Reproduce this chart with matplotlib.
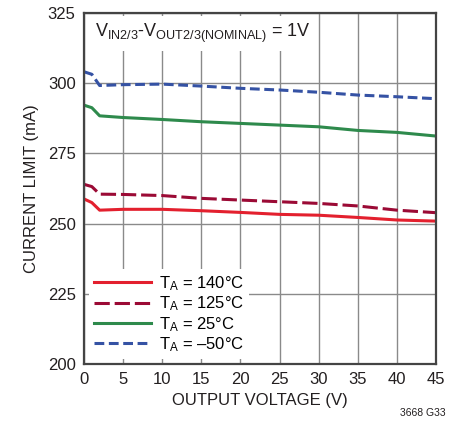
import numpy as np
import matplotlib.pyplot as plt

plt.rcParams['font.family'] = ['Liberation Sans Narrow', 'Liberation Sans', 'DejaVu Sans']
plt.rcParams['mathtext.fontset'] = 'custom'
plt.rcParams['mathtext.rm'] = 'Liberation Sans'
plt.rcParams['mathtext.it'] = 'Liberation Sans'

# Output voltage (V)
vout = [0, 1, 2, 5, 10, 15, 20, 25, 30, 35, 40, 45]

# Current limit (mA) per temperature
i_140 = [258.8, 257.5, 254.8, 255.1, 255.1, 254.6, 254.0, 253.3, 253.0, 252.2, 251.3, 250.9]
i_125 = [264.0, 263.2, 260.5, 260.4, 260.0, 259.0, 258.4, 257.8, 257.2, 256.3, 254.8, 253.9]
i_25 = [292.2, 291.3, 288.4, 287.8, 287.1, 286.3, 285.7, 285.1, 284.5, 283.2, 282.5, 281.2]
i_m50 = [304.1, 303.2, 299.2, 299.5, 299.7, 299.0, 298.2, 297.6, 296.8, 295.8, 295.2, 294.5]

labels = [r'$\mathregular{T_A}$ = 140°C', r'$\mathregular{T_A}$ = 125°C',
          r'$\mathregular{T_A}$ = 25°C', r'$\mathregular{T_A}$ = –50°C']

fig = plt.figure(figsize=(4.59, 4.29), dpi=100)
ax = fig.add_axes([0.183, 0.1515, 0.767, 0.818])

ax.plot(vout, i_140, color='#e3202e', lw=2.2, label=labels[0])
ax.plot(vout, i_125, color='#9b0a35', lw=2.2, dashes=(5, 1.6), label=labels[1])
ax.plot(vout, i_25, color='#2e8a4c', lw=2.2, label=labels[2])
ax.plot(vout, i_m50, color='#3552a4', lw=2.2, dashes=(3.2, 1.5), label=labels[3])

ax.set_xlim(0, 45)
ax.set_ylim(200, 325)
ax.set_xticks(np.arange(0, 46, 5))
ax.set_yticks(np.arange(200, 326, 25))
ax.grid(True, color='#8a8a8a', lw=1)
ax.set_axisbelow(True)
ax.tick_params(length=0, labelsize=12, colors='#231f20', pad=6)
for s in ax.spines.values():
    s.set_color('#444444')
    s.set_linewidth(1.6)

ax.set_xlabel('OUTPUT VOLTAGE (V)', fontsize=12, color='#231f20', labelpad=4)
ax.set_ylabel('CURRENT LIMIT (mA)', fontsize=12, color='#231f20', labelpad=6)

ax.text(0.03, 0.975, r'V$\mathregular{_{IN2/3}}$-V$\mathregular{_{OUT2/3(NOMINAL)}}$ = 1V',
        transform=ax.transAxes, fontsize=13, va='top', ha='left', color='#231f20',
        bbox=dict(facecolor='white', edgecolor='none', pad=4))

leg = ax.legend(loc='lower left', fontsize=12, frameon=True, fancybox=False,
                edgecolor='none', framealpha=1, handlelength=3.4, handletextpad=0.5,
                labelspacing=0.1, borderaxespad=0.3, borderpad=0.3)

fig.text(0.97, 0.025, '3668 G33', fontsize=7.5, ha='right', va='bottom', color='#231f20')

fig.savefig('out.png', dpi=100)
